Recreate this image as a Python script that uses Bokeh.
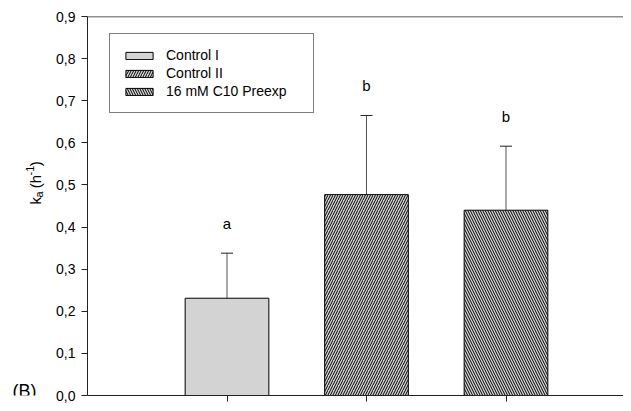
from bokeh.plotting import figure
from bokeh.models import (ColumnDataSource, Whisker, TeeHead, Legend, LegendItem,
                          Span, FixedTicker)
from bokeh.layouts import row
from bokeh.embed import file_html
from bokeh.resources import INLINE
from bokeh.core.properties import value
import math

# ---- data ----
cats = [1, 2, 3]
names = ["Control I", "Control II", "16 mM C10 Preexp"]
values = [0.231, 0.477, 0.440]
errors = [0.107, 0.188, 0.152]
letters = ["a", "b", "b"]
y_ticks = [0.0, 0.1, 0.2, 0.3, 0.4, 0.5, 0.6, 0.7, 0.8, 0.9]
y_tick_labels = ["0,0", "0,1", "0,2", "0,3", "0,4", "0,5", "0,6", "0,7", "0,8", "0,9"]
hatches = [" ", "/", "\\"]

FONT = "Liberation Sans"
FILL = "#d3d3d3"
AX = "#222222"
W, H = 623, 403          # fits the 631x411 window with its 8px margin
LEFT_W = 48
FRAME_LEFT = 87
FRAME_TOP = 16
FRAME_BOTTOM = 395
FRAME_W = W - FRAME_LEFT  # 536
PX_PER_CAT = 139.5
Y_MAX = 0.9

# ---- main plot ----
p = figure(width=W - LEFT_W, height=H, output_backend="svg", toolbar_location=None,
           x_range=(0, FRAME_W / PX_PER_CAT), y_range=(0, Y_MAX),
           min_border_left=FRAME_LEFT - LEFT_W, min_border_top=FRAME_TOP, min_border_right=0,
           min_border_bottom=H - FRAME_BOTTOM)
p.grid.visible = False
p.outline_line_color = None
p.background_fill_color = "white"
p.border_fill_color = "white"

p.yaxis.ticker = FixedTicker(ticks=y_ticks)
p.yaxis.major_label_overrides = {t: l for t, l in zip(y_ticks, y_tick_labels)}
p.yaxis.major_label_text_font = FONT
p.yaxis.major_label_text_font_size = "14px"
p.yaxis.major_label_text_color = "black"
p.yaxis.major_tick_in = 0
p.yaxis.major_tick_out = 6
p.yaxis.minor_tick_line_color = None
p.yaxis.major_label_standoff = 6
p.yaxis.axis_line_color = AX
p.yaxis.major_tick_line_color = AX

p.xaxis.ticker = FixedTicker(ticks=cats)
p.xaxis.major_label_overrides = {c: "" for c in cats}
p.xaxis.major_label_text_font_size = "0px"
p.xaxis.major_label_standoff = 0
p.xaxis.major_tick_in = 0
p.xaxis.major_tick_out = 6
p.xaxis.minor_tick_line_color = None
p.xaxis.axis_line_color = AX
p.xaxis.major_tick_line_color = AX

# top frame line
p.add_layout(Span(location=Y_MAX, dimension="width", line_color=AX, line_width=1.5))

# bars
renderers = []
for c, v, h in zip(cats, values, hatches):
    r = p.vbar(x=[c], top=[v], bottom=0, width=0.6, fill_color=FILL,
               line_color="black", line_width=1,
               hatch_pattern=h, hatch_color="black", hatch_scale=5, hatch_weight=1.0)
    renderers.append(r)

# error bars (upper only)
upper = [v + e for v, e in zip(values, errors)]
esrc = ColumnDataSource(dict(x=cats, upper=upper, lower=values))
p.add_layout(Whisker(base="x", upper="upper", lower="lower", source=esrc,
                     upper_head=TeeHead(size=12, line_color=AX, line_width=1),
                     lower_head=None, line_color="#555555", line_width=1))

# significance letters
lsrc = ColumnDataSource(dict(x=cats, y=[u + 0.07 for u in upper], t=letters))
p.text(x="x", y="y", text="t", source=lsrc, text_align="center", text_baseline="middle",
       text_font=value(FONT), text_font_size="15px", text_color="black")

# legend
legend = Legend(items=[LegendItem(label=n, renderers=[r]) for n, r in zip(names, renderers)],
                location=(22, FRAME_BOTTOM - 113), orientation="vertical",
                glyph_width=34, glyph_height=9, label_height=18, label_width=135,
                label_standoff=10, spacing=0, padding=12, margin=0,
                label_text_font=FONT, label_text_font_size="14px", label_text_color="black",
                border_line_color="black", border_line_width=1,
                background_fill_color="white", background_fill_alpha=1)
p.add_layout(legend)

# ---- left strip with axis title and panel label (pixel coordinates) ----
q = figure(width=LEFT_W, height=H, output_backend="svg", toolbar_location=None,
           x_range=(0, LEFT_W), y_range=(0, H), x_axis_type=None, y_axis_type=None,
           min_border_left=0, min_border_right=0, min_border_top=0, min_border_bottom=0)
q.grid.visible = False
q.outline_line_color = None
q.background_fill_color = "white"
q.border_fill_color = "white"

# "k_a (h^-1)" composed from pieces, rotated; (text, size, advance px, baseline x)
segments = [("k", 15, 7.5, 35), ("a", 11, 10.0, 38), ("(h", 15, 13.5, 35),
            ("-1", 11, 9.8, 29), (")", 15, 5.0, 35)]
ypix = 200
for txt, fs, ln, bx in segments:
    q.text(x=[bx], y=[H - ypix], text=[txt], angle=math.pi / 2,
           text_font=value(FONT), text_font_size=f"{fs}px", text_color="black",
           text_align="left", text_baseline="alphabetic")
    ypix -= ln

q.text(x=[12], y=[H - 398], text=["(B)"], text_font=value(FONT), text_font_size="18px",
       text_color="black", text_align="left", text_baseline="alphabetic")

layout = row(q, p)
open("out.html", "w").write(file_html(layout, INLINE))
